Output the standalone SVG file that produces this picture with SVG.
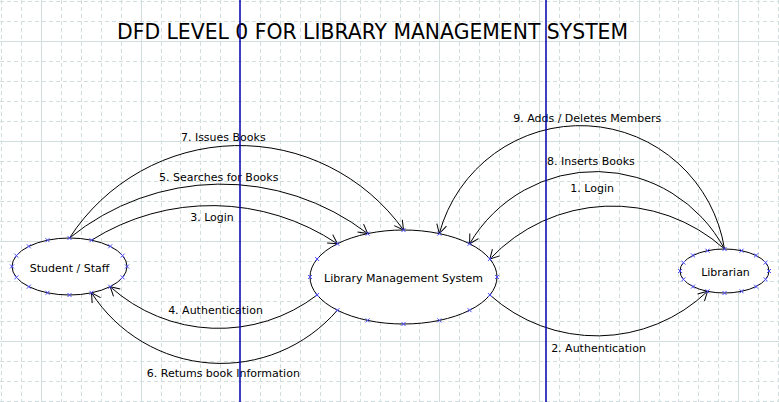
<svg xmlns="http://www.w3.org/2000/svg" xmlns:xlink="http://www.w3.org/1999/xlink" width="779" height="402" viewBox="0 0 779 402">
<defs>
<style>
.gmin{fill:none;stroke:#d2dede;stroke-width:1;stroke-dasharray:4 3}
.gmaj{fill:none;stroke:#d2dede;stroke-width:1}
.guide{stroke:#0000a8;stroke-width:1.5}
.node ellipse{fill:#fff;stroke:#000;stroke-width:1}
.pt{fill:none;stroke:#4b4bff;stroke-width:1}
.lbl{font-family:"DejaVu Sans",Verdana,sans-serif;font-size:11px;fill:#000;text-anchor:middle}
.title{font-family:"DejaVu Sans",Verdana,sans-serif;font-size:21px;fill:#000;text-anchor:middle}
.flow path{fill:none;stroke:#000;stroke-width:1;marker-end:url(#ah)}
</style>
<marker id="ah" viewBox="-11 -7 13 14" refX="0" refY="0" markerWidth="13" markerHeight="14" orient="auto" markerUnits="userSpaceOnUse">
<path d="M-9,-5 L0,0 L-9,5" fill="none" stroke="#000" stroke-width="1"/>
</marker>
<path id="x" d="M-2,-2L2,2M-2,2L2,-2"/>
</defs>

<g id="grid">
<path class="gmin" d="M1.5 0V402M21.5 0V402M61.5 0V402M81.5 0V402M101.5 0V402M121.5 0V402M161.5 0V402M180.5 0V402M200.5 0V402M220.5 0V402M260.5 0V402M280.5 0V402M300.5 0V402M320.5 0V402M360.5 0V402M380.5 0V402M400.5 0V402M419.5 0V402M459.5 0V402M479.5 0V402M499.5 0V402M519.5 0V402M559.5 0V402M579.5 0V402M599.5 0V402M619.5 0V402M659.5 0V402M678.5 0V402M698.5 0V402M718.5 0V402M758.5 0V402M778.5 0V402M0 1.5H779M0 21.5H779M0 61.5H779M0 81.5H779M0 101.5H779M0 121.5H779M0 161.5H779M0 181.5H779M0 201.5H779M0 221.5H779M0 261.5H779M0 281.5H779M0 301.5H779M0 321.5H779M0 361.5H779M0 381.5H779M0 401.5H779"/>
<path class="gmaj" d="M41.5 0V402M141.5 0V402M340.5 0V402M439.5 0V402M539.5 0V402M639.5 0V402M738.5 0V402M0 41.5H779M0 141.5H779M0 241.5H779M0 341.5H779"/>
</g>

<text class="title" x="372.5" y="39" textLength="511" lengthAdjust="spacingAndGlyphs">DFD LEVEL 0 FOR LIBRARY MANAGEMENT SYSTEM</text>

<g id="connectors" class="flow">
<g id="f7"><path d="M69.5 238 A202 202 0 0 1 403.5 230"/><text class="lbl" x="223.3" y="141">7. Issues Books</text></g>
<g id="f5"><path d="M69.5 238 A241 241 0 0 1 367.7 233.6"/><text class="lbl" x="218.7" y="181">5. Searches for Books</text></g>
<g id="f3"><path d="M91.5 240.2 A226 226 0 0 1 337.4 243.8"/><text class="lbl" x="212" y="221">3. Login</text></g>
<g id="f9"><path d="M724.5 249 A146 146 0 0 0 439.3 233.6"/><text class="lbl" x="587.2" y="122">9. Adds / Deletes Members</text></g>
<g id="f8"><path d="M724.5 249 A146 146 0 0 0 469.6 243.8"/><text class="lbl" x="590.9" y="165">8. Inserts Books</text></g>
<g id="f1"><path d="M724.5 249 A168 168 0 0 0 489.9 259"/><text class="lbl" x="592.2" y="192">1. Login</text></g>
<g id="f4"><path d="M317.1 295 A162 162 0 0 1 110.2 286.7"/><text class="lbl" x="215.5" y="314">4. Authentication</text></g>
<g id="f6"><path d="M337.4 310.2 A154 154 0 0 1 91.5 292.8"/><text class="lbl" x="223.3" y="377">6. Retums book Information</text></g>
<g id="f2"><path d="M489.9 295 A160 160 0 0 0 707.5 291.3"/><text class="lbl" x="598.5" y="352">2. Authentication</text></g>
</g>

<g id="student" class="node">
<ellipse cx="69.5" cy="266.5" rx="57.5" ry="28.5"/>
<text class="lbl" x="69.5" y="272">Student / Staff</text>
<g class="pt">
<use xlink:href="#x" x="127" y="266.5"/><use xlink:href="#x" x="122.6" y="255.6"/><use xlink:href="#x" x="122.6" y="277.4"/>
<use xlink:href="#x" x="110.2" y="246.3"/><use xlink:href="#x" x="110.2" y="286.7"/>
<use xlink:href="#x" x="91.5" y="240.2"/><use xlink:href="#x" x="91.5" y="292.8"/>
<use xlink:href="#x" x="69.5" y="238"/><use xlink:href="#x" x="69.5" y="295"/>
<use xlink:href="#x" x="47.5" y="240.2"/><use xlink:href="#x" x="47.5" y="292.8"/>
<use xlink:href="#x" x="28.8" y="246.3"/><use xlink:href="#x" x="28.8" y="286.7"/>
<use xlink:href="#x" x="16.4" y="255.6"/><use xlink:href="#x" x="16.4" y="277.4"/>
<use xlink:href="#x" x="12" y="266.5"/>
</g>
</g>

<g id="lms" class="node">
<ellipse cx="403.5" cy="277" rx="93.5" ry="47"/>
<text class="lbl" x="403.5" y="282">Library Management System</text>
<g class="pt">
<use xlink:href="#x" x="497" y="277"/><use xlink:href="#x" x="489.9" y="259"/><use xlink:href="#x" x="489.9" y="295"/>
<use xlink:href="#x" x="469.6" y="243.8"/><use xlink:href="#x" x="469.6" y="310.2"/>
<use xlink:href="#x" x="439.3" y="233.6"/><use xlink:href="#x" x="439.3" y="320.4"/>
<use xlink:href="#x" x="403.5" y="230"/><use xlink:href="#x" x="403.5" y="324"/>
<use xlink:href="#x" x="367.7" y="233.6"/><use xlink:href="#x" x="367.7" y="320.4"/>
<use xlink:href="#x" x="337.4" y="243.8"/><use xlink:href="#x" x="337.4" y="310.2"/>
<use xlink:href="#x" x="317.1" y="259"/><use xlink:href="#x" x="317.1" y="295"/>
<use xlink:href="#x" x="310" y="277"/>
</g>
</g>

<g id="librarian" class="node">
<ellipse cx="724.5" cy="271" rx="44.5" ry="22"/>
<text class="lbl" x="725.5" y="276">Librarian</text>
<g class="pt">
<use xlink:href="#x" x="769" y="271"/><use xlink:href="#x" x="765.6" y="262.6"/><use xlink:href="#x" x="765.6" y="279.4"/>
<use xlink:href="#x" x="756" y="255.4"/><use xlink:href="#x" x="756" y="286.6"/>
<use xlink:href="#x" x="741.5" y="250.7"/><use xlink:href="#x" x="741.5" y="291.3"/>
<use xlink:href="#x" x="724.5" y="249"/><use xlink:href="#x" x="724.5" y="293"/>
<use xlink:href="#x" x="707.5" y="250.7"/><use xlink:href="#x" x="707.5" y="291.3"/>
<use xlink:href="#x" x="693" y="255.4"/><use xlink:href="#x" x="693" y="286.6"/>
<use xlink:href="#x" x="683.4" y="262.6"/><use xlink:href="#x" x="683.4" y="279.4"/>
<use xlink:href="#x" x="680" y="271"/>
</g>
</g>

<g id="guides">
<line class="guide" x1="240" y1="0" x2="240" y2="402"/>
<line class="guide" x1="546" y1="0" x2="546" y2="402"/>
</g>
</svg>
